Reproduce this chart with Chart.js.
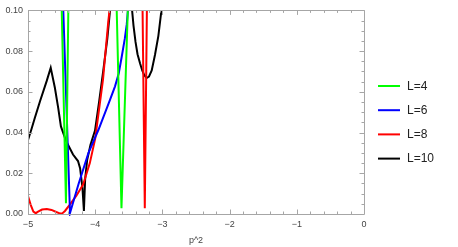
<!DOCTYPE html>
<html>
<head>
<meta charset="utf-8">
<script src="https://cdn.jsdelivr.net/npm/chart.js@4/dist/chart.umd.min.js"></script>
<style>
  html, body { margin: 0; padding: 0; background: #fff; }
  #wrap { width: 458px; height: 247px; position: relative; }
</style>
</head>
<body>
<div id="wrap"><canvas id="chart"></canvas></div>
<script>
'use strict';

// ── Data ─────────────────────────────────────────────────────────────────────

const X_TICKS = [-5, -4, -3, -2, -1, 0];
const Y_TICKS = [0, 0.02, 0.04, 0.06, 0.08, 0.10];
const X_TITLE = 'p^2';
const LABELS = ['L=4', 'L=6', 'L=8', 'L=10'];

// each series is a list of branches, each branch a list of [p^2, value]
const L4 = [
  [[-4.500, 0.103], [-4.435, 0.0053], [-4.399, 0.103]],
  [[-3.682, 0.103], [-3.609, 0.0028], [-3.512, 0.103]],
];
const L6 = [
  [[-4.478, 0.103], [-4.375, 0.0005], [-4.25, 0.0145], [-4.10, 0.0300],
   [-3.95, 0.0415], [-3.85, 0.0500], [-3.78, 0.0560], [-3.705, 0.0627],
   [-3.65, 0.0690], [-3.606, 0.0771], [-3.56, 0.0860], [-3.531, 0.0930],
   [-3.505, 0.103]],
];
const L8 = [
  [[-5.00, 0.0088], [-4.96, 0.0045], [-4.92, 0.0012], [-4.885, 0.0004],
   [-4.85, 0.0012], [-4.79, 0.0022], [-4.72, 0.0025], [-4.65, 0.0020],
   [-4.58, 0.0010], [-4.52, 0.0002], [-4.49, 0.0003], [-4.45, 0.0015],
   [-4.38, 0.0045], [-4.28, 0.0090], [-4.18, 0.0145], [-4.08, 0.0250],
   [-4.00, 0.0370], [-3.94, 0.0520], [-3.884, 0.0660], [-3.805, 0.0946],
   [-3.776, 0.103]],
  [[-3.296, 0.103], [-3.262, 0.0028], [-3.230, 0.103]],
];
const L10 = [
  [[-5.00, 0.0364], [-4.95, 0.0415], [-4.90, 0.0470], [-4.82, 0.0555],
   [-4.72, 0.0655], [-4.662, 0.0718], [-4.60, 0.0620], [-4.55, 0.0520],
   [-4.51, 0.0430], [-4.43, 0.0356], [-4.33, 0.0292], [-4.256, 0.0260],
   [-4.225, 0.0225], [-4.19, 0.0130], [-4.168, 0.0015], [-4.15, 0.0170],
   [-4.12, 0.0265], [-4.07, 0.0340], [-4.003, 0.0410], [-3.94, 0.0555],
   [-3.879, 0.0707], [-3.82, 0.0860], [-3.775, 0.1015]],
  [[-3.455, 0.1015], [-3.43, 0.0925], [-3.40, 0.0845], [-3.37, 0.0785],
   [-3.333, 0.0740], [-3.30, 0.0705], [-3.27, 0.0682], [-3.234, 0.0668],
   [-3.20, 0.0675], [-3.159, 0.0705], [-3.11, 0.0782], [-3.06, 0.0875],
   [-3.02, 0.0985], [-3.012, 0.1015]],
];

// ── Style ────────────────────────────────────────────────────────────────────

const COLORS = ['#00ff00', '#0000ff', '#ff0000', '#000000'];
const FRAME = '#a6a6a6';
const TEXT = '#444444';
const FONT = '"Liberation Sans", Arial, sans-serif';

// branches -> flat point list with null gaps between branches
function toPoints(branches) {
  const out = [];
  branches.forEach((b, i) => {
    if (i > 0) out.push({ x: (out[out.length - 1].x + b[0][0]) / 2, y: null });
    b.forEach(([x, y]) => out.push({ x, y }));
  });
  return out;
}

function fmtX(v) {
  return v === 0 ? '0' : (v < 0 ? '\u2212' : '') + Math.abs(v);
}

// ── Plugins ──────────────────────────────────────────────────────────────────

// Mathematica-like frame with inward major/minor ticks on all four sides
const framePlugin = {
  id: 'frame',
  afterDatasetsDraw(chart) {
    const { ctx, chartArea: a, scales: { x, y } } = chart;
    ctx.save();
    ctx.strokeStyle = FRAME;
    ctx.lineWidth = 1;
    ctx.beginPath();
    ctx.rect(Math.round(a.left) + 0.5, Math.round(a.top) + 0.5,
             Math.round(a.right - a.left), Math.round(a.bottom - a.top));
    ctx.stroke();

    ctx.beginPath();
    for (let i = 0; i <= 25; i++) {
      const v = X_TICKS[0] + i * 0.2;
      const len = i % 5 === 0 ? 4.5 : 2.5;
      const px = Math.round(x.getPixelForValue(v)) + 0.5;
      ctx.moveTo(px, a.bottom); ctx.lineTo(px, a.bottom - len);
      ctx.moveTo(px, a.top); ctx.lineTo(px, a.top + len);
    }
    for (let i = 0; i <= 20; i++) {
      const v = i * 0.005;
      const len = i % 4 === 0 ? 4.5 : 2.5;
      const py = Math.round(y.getPixelForValue(v)) + 0.5;
      ctx.moveTo(a.left, py); ctx.lineTo(a.left + len, py);
      ctx.moveTo(a.right, py); ctx.lineTo(a.right - len, py);
    }
    ctx.stroke();
    ctx.restore();
  },
};

// legend on the right, drawn from the datasets
const legendPlugin = {
  id: 'sideLegend',
  afterDraw(chart) {
    const { ctx } = chart;
    ctx.save();
    ctx.font = '12px ' + FONT;
    ctx.textBaseline = 'middle';
    chart.data.datasets.forEach((ds, i) => {
      const yy = 86 + i * 24.2;
      ctx.strokeStyle = ds.borderColor;
      ctx.lineWidth = 2;
      ctx.beginPath();
      ctx.moveTo(378, yy); ctx.lineTo(400, yy);
      ctx.stroke();
      ctx.fillStyle = '#222';
      ctx.fillText(ds.label, 407, yy + 0.5);
    });
    ctx.restore();
  },
};

// ── Chart ────────────────────────────────────────────────────────────────────

const series = [L4, L6, L8, L10];
const noGrid = { display: false, drawTicks: false, tickLength: 0 };

new Chart(document.getElementById('chart'), {
  type: 'scatter',
  data: {
    datasets: series.map((s, i) => ({
      label: LABELS[i],
      data: toPoints(s),
      showLine: true,
      borderColor: COLORS[i],
      backgroundColor: COLORS[i],
      borderWidth: 2,
      pointRadius: 0,
      tension: 0,
      spanGaps: false,
      clip: { left: 0, top: 0, right: 0, bottom: 2 },
    })),
  },
  options: {
    animation: false,
    responsive: true,
    maintainAspectRatio: false,
    layout: { padding: { left: 0, top: 5.5, right: 94, bottom: 0 } },
    plugins: { legend: { display: false }, tooltip: { enabled: false } },
    scales: {
      x: {
        type: 'linear',
        min: X_TICKS[0],
        max: X_TICKS[X_TICKS.length - 1],
        afterBuildTicks: s => { s.ticks = X_TICKS.map(v => ({ value: v })); },
        afterFit: s => { s.height = 33; },
        grid: noGrid,
        border: { display: false },
        ticks: {
          color: TEXT,
          font: { family: FONT, size: 9 },
          padding: 5,
          maxRotation: 0,
          callback: v => fmtX(v),
        },
        title: {
          display: true,
          text: X_TITLE,
          color: TEXT,
          font: { family: FONT, size: 9 },
          padding: { top: 0, bottom: 1.5 },
        },
      },
      y: {
        type: 'linear',
        min: Y_TICKS[0],
        max: Y_TICKS[Y_TICKS.length - 1],
        afterBuildTicks: s => { s.ticks = Y_TICKS.map(v => ({ value: v })); },
        afterFit: s => { s.width = 28; },
        grid: noGrid,
        border: { display: false },
        ticks: {
          color: TEXT,
          font: { family: FONT, size: 9 },
          padding: 5,
          callback: v => v.toFixed(2),
        },
      },
    },
  },
  plugins: [framePlugin, legendPlugin],
});
</script>
</body>
</html>
